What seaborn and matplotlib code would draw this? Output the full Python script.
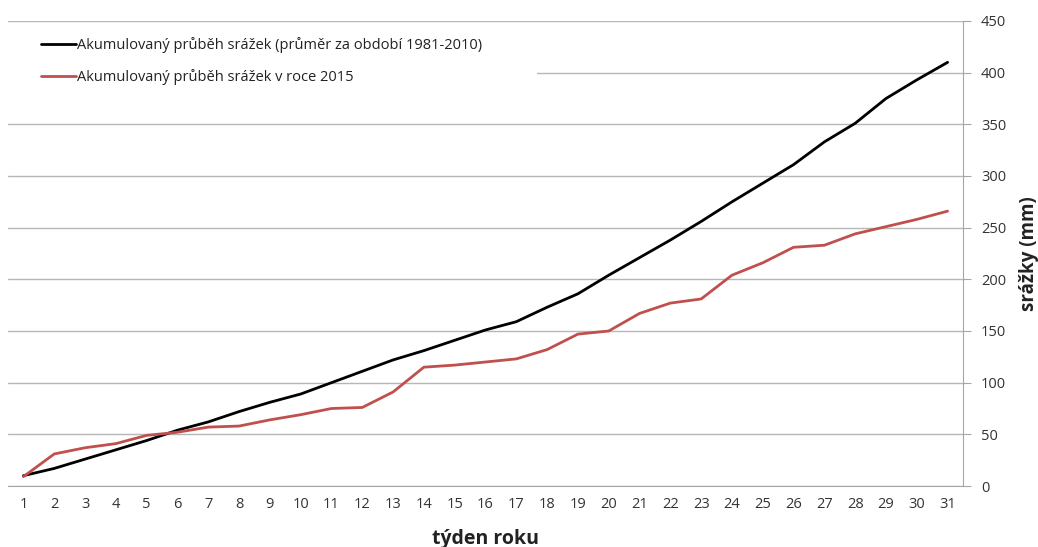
import numpy as np
import pandas as pd
import matplotlib
matplotlib.use("Agg")
import matplotlib.pyplot as plt
import seaborn as sns
from matplotlib.ticker import FixedLocator
from matplotlib.patches import Rectangle

weeks = list(range(1, 32))
avg_1981_2010 = [10, 17, 26, 35, 44, 54, 62, 72, 81, 89, 100, 111, 122, 131, 141, 151, 159,
                 173, 186, 204, 221, 238, 256, 275, 293, 311, 333, 351, 375, 393, 410]
year_2015 = [9, 31, 37, 41, 49, 52, 57, 58, 64, 69, 75, 76, 91, 115, 117, 120, 123,
             132, 147, 150, 167, 177, 181, 204, 216, 231, 233, 244, 251, 258, 266]
label_avg = "Akumulovaný průběh srážek (průměr za období 1981-2010)"
label_2015 = "Akumulovaný průběh srážek v roce 2015"
y_ticks = [0, 50, 100, 150, 200, 250, 300, 350, 400, 450]

df = pd.DataFrame({
    "week": weeks * 2,
    "value": avg_1981_2010 + year_2015,
    "series": [label_avg] * len(weeks) + [label_2015] * len(weeks),
})

sns.set_style("white")
plt.rcParams['font.family'] = ['Open Sans', 'DejaVu Sans']

fig = plt.figure(figsize=(10.38, 5.47), dpi=100)
ax = fig.add_axes([8 / 1038, (547 - 486) / 547, (963 - 8) / 1038, (486 - 21) / 547])

sns.lineplot(data=df, x="week", y="value", hue="series",
             palette={label_avg: "#000000", label_2015: "#C0504D"},
             linewidth=2.0, ax=ax, legend=True)

ax.set_xlim(0.5, 31.5)
ax.set_ylim(0, 450)
ax.yaxis.tick_right()
ax.yaxis.set_label_position("right")
ax.set_yticks(y_ticks)
ax.set_xticks(weeks)
ax.xaxis.set_minor_locator(FixedLocator(np.arange(0.5, 32, 1)))
ax.tick_params(axis="x", which="major", length=0, labelsize=10.5, colors="#333333", pad=8)
ax.tick_params(axis="x", which="minor", length=6, color="#A6A6A6", direction="out")
ax.tick_params(axis="y", length=6, color="#A6A6A6", labelsize=10.5, labelcolor="#333333", pad=7)
ax.grid(axis="y", color="#B7B7B7", linewidth=1)
ax.set_axisbelow(True)
for s in ["top", "left"]:
    ax.spines[s].set_visible(False)
ax.spines["right"].set_color("#A6A6A6")
ax.spines["bottom"].set_color("#A6A6A6")

ax.set_xlabel("týden roku", fontsize=14, fontweight="bold", color="#222222", labelpad=12)
ax.set_ylabel("srážky (mm)", fontsize=13.5, fontweight="bold", color="#222222", labelpad=9)

# white legend area covering part of the 400 gridline
ax.add_patch(Rectangle((0.0, 0.80), (537 - 8) / 955, 0.18, transform=ax.transAxes,
                       facecolor="white", edgecolor="none", zorder=1))

leg = ax.legend(loc="upper left", bbox_to_anchor=(0.035, 0.965), frameon=False,
                fontsize=10.5, handlelength=2.4, handletextpad=0.05, labelspacing=1.1,
                borderpad=0.0, borderaxespad=0.0)
for t in leg.get_texts():
    t.set_color("#222222")

fig.savefig("out.png", dpi=100)
